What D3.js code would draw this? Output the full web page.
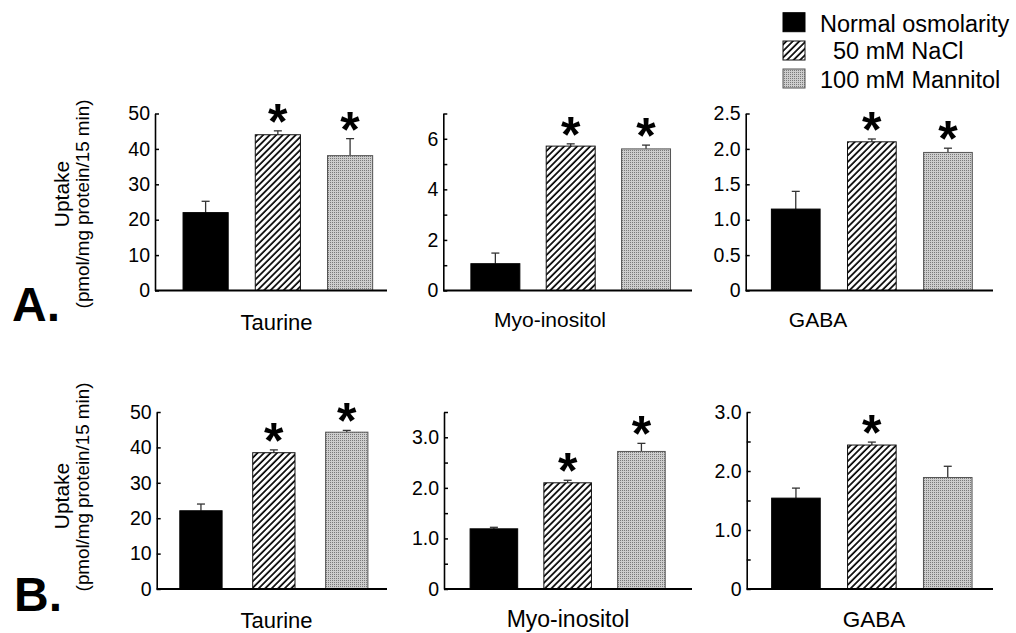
<!DOCTYPE html>
<html><head><meta charset="utf-8">
<script src="https://cdn.jsdelivr.net/npm/d3@7"></script>
<style>
body{margin:0;background:#fff}
svg{display:block}
text{font-family:"Liberation Sans",Arial,Helvetica,sans-serif;fill:#000}
</style>
</head><body>
<svg id="c" width="1016" height="633"></svg>
<script>
// ---------- DATA ----------
const categories = ["Taurine", "Myo-inositol", "GABA"];
const seriesNames = ["Normal osmolarity", "50 mM NaCl", "100 mM Mannitol"];

// Panel A: means and SEM (upper whisker) per category, order = series
const panelA_means = [[22.0, 44.0, 38.1], [1.06, 5.71, 5.60], [1.15, 2.10, 1.95]];
const panelA_sem   = [[3.2, 1.1, 4.8],   [0.42, 0.09, 0.15], [0.25, 0.04, 0.06]];
const panelA_sig   = [[false, true, true], [false, true, true], [false, true, true]];
const panelA_yMax  = [50, 7, 2.5];
const panelA_ticks = [[0,10,20,30,40,50], [0,1,2,3,4,5,6,7], [0,0.5,1,1.5,2,2.5]];
const panelA_tickLabels = [["0","10","20","30","40","50"], ["0","","2","","4","","6",""], ["0","0.5","1.0","1.5","2.0","2.5"]];

// Panel B
const panelB_means = [[22.1, 38.5, 44.3], [1.19, 2.10, 2.72], [1.54, 2.44, 1.89]];
const panelB_sem   = [[1.9, 0.8, 0.5],   [0.03, 0.05, 0.16], [0.17, 0.05, 0.19]];
const panelB_sig   = [[false, true, true], [false, true, true], [false, true, false]];
const panelB_yMax  = [50, 3.5, 3.0];
const panelB_ticks = [[0,10,20,30,40,50], [0,0.5,1,1.5,2,2.5,3,3.5], [0,0.5,1,1.5,2,2.5,3]];
const panelB_tickLabels = [["0","10","20","30","40","50"], ["0","","1.0","","2.0","","3.0",""], ["0","","1.0","","2.0","","3.0"]];

const panelLetters = ["A.", "B."];
const yTitle1 = "Uptake";
const yTitle2 = "(pmol/mg protein/15 min)";

// ---------- LAYOUT ----------
const layout = [
  { y0: 290.5, yTop: 113.5,
    cols: [ {ax:155, end:387, b0:169.5, b1:386.2, pad:0.375},
            {ax:443.3, end:692, b0:457.7, b1:683.7, pad:0.35},
            {ax:745.7, end:993, b0:757.7, b1:986, pad:0.36} ],
    labels: [ {x:276.5, y:330, fs:22}, {x:550, y:327, fs:21}, {x:818, y:327, fs:21} ],
    letter: {x:12, y:321}, yl: {x1:69, c1:194, x2:88.5, c2:204} },
  { y0: 589, yTop: 412,
    cols: [ {ax:156.7, end:387, b0:164.5, b1:383.2, pad:0.42},
            {ax:444, end:692, b0:457, b1:678.3, pad:0.355},
            {ax:746.7, end:993, b0:758, b1:985.7, pad:0.36} ],
    labels: [ {x:276.5, y:628, fs:22}, {x:568, y:627, fs:23}, {x:874, y:627, fs:22.5} ],
    letter: {x:14, y:611}, yl: {x1:69, c1:496, x2:88.5, c2:487} }
];

const panels = [
  {means: panelA_means, sem: panelA_sem, sig: panelA_sig, yMax: panelA_yMax, ticks: panelA_ticks, tl: panelA_tickLabels},
  {means: panelB_means, sem: panelB_sem, sig: panelB_sig, yMax: panelB_yMax, ticks: panelB_ticks, tl: panelB_tickLabels}
];

const svg = d3.select("#c");
const defs = svg.append("defs");
// hatch pattern
const hp = defs.append("pattern").attr("id","hatch").attr("patternUnits","userSpaceOnUse")
  .attr("width",4.6).attr("height",4.6).attr("patternTransform","rotate(45)");
hp.append("rect").attr("width",4.6).attr("height",4.6).attr("fill","#fff");
hp.append("line").attr("x1",1).attr("x2",1).attr("y1",0).attr("y2",4.6).attr("stroke","#000").attr("stroke-width",1.7);
// dotted gray pattern
const gp = defs.append("pattern").attr("id","dots").attr("patternUnits","userSpaceOnUse").attr("width",2).attr("height",2);
gp.append("rect").attr("width",2).attr("height",2).attr("fill","#cdcdcd");
gp.append("rect").attr("width",1).attr("height",1).attr("fill","#7a7a7a");

const fills = ["#000", "url(#hatch)", "url(#dots)"];
const strokes = ["#000", "#111", "#555"];

panels.forEach((p, pi) => {
  const L = layout[pi];
  categories.forEach((cat, ci) => {
    const C = L.cols[ci];
    const g = svg.append("g");
    const y = d3.scaleLinear().domain([0, p.yMax[ci]]).range([L.y0, L.yTop]);
    const x = d3.scaleBand().domain(seriesNames).range([C.b0, C.b1]).paddingInner(C.pad).paddingOuter(C.pad/2);
    const data = seriesNames.map((s, si) => ({s, si, v: p.means[ci][si], e: p.sem[ci][si], sig: p.sig[ci][si]}));

    // error bars
    g.selectAll(".eb").data(data).enter().append("line")
      .attr("x1", d => x(d.s) + x.bandwidth()/2).attr("x2", d => x(d.s) + x.bandwidth()/2)
      .attr("y1", d => y(d.v)).attr("y2", d => y(d.v + d.e))
      .attr("stroke", "#333").attr("stroke-width", 1.3);
    g.selectAll(".cap").data(data).enter().append("line")
      .attr("x1", d => x(d.s) + x.bandwidth()/2 - 4).attr("x2", d => x(d.s) + x.bandwidth()/2 + 4)
      .attr("y1", d => y(d.v + d.e)).attr("y2", d => y(d.v + d.e))
      .attr("stroke", "#333").attr("stroke-width", 1.3);

    // bars
    g.selectAll(".bar").data(data).enter().append("rect")
      .attr("x", d => x(d.s)).attr("width", x.bandwidth())
      .attr("y", d => y(d.v)).attr("height", d => y(0) - y(d.v))
      .attr("fill", d => fills[d.si]).attr("stroke", d => strokes[d.si]).attr("stroke-width", 1);

    // significance stars
    g.selectAll(".star").data(data.filter(d => d.sig)).enter().append("text")
      .attr("x", d => x(d.s) + x.bandwidth()/2)
      .attr("y", d => y(d.v + d.e) - 20 + 28)
      .attr("text-anchor", "middle").attr("font-weight", "bold").attr("font-size", 50)
      .text("*");

    // y axis
    const ax = g.append("g").attr("transform", `translate(${C.ax},0)`)
      .call(d3.axisLeft(y).tickValues(p.ticks[ci]).tickSizeInner(-4).tickSizeOuter(0).tickPadding(5)
        .tickFormat((d, i) => p.tl[ci][i]));
    ax.select(".domain").attr("stroke", "#000").attr("stroke-width", 1.6);
    ax.selectAll(".tick line").attr("stroke", "#000").attr("stroke-width", 1.5);
    ax.selectAll(".tick text").attr("font-size", 19.5).attr("font-family", "Liberation Sans, Arial, sans-serif").attr("fill", "#000");

    // x axis baseline
    g.append("line").attr("x1", C.ax).attr("x2", C.end).attr("y1", y(0)).attr("y2", y(0))
      .attr("stroke", "#000").attr("stroke-width", 2);

    // category label
    const lb = L.labels[ci];
    g.append("text").attr("x", lb.x).attr("y", lb.y).attr("text-anchor", "middle")
      .attr("font-size", lb.fs).text(cat);
  });

  // panel letter
  svg.append("text").attr("x", L.letter.x).attr("y", L.letter.y)
    .attr("font-size", 48).attr("font-weight", "bold").text(panelLetters[pi]);

  // y title
  svg.append("text").attr("transform", `translate(${L.yl.x1},${L.yl.c1}) rotate(-90)`)
    .attr("text-anchor", "middle").attr("font-size", 21).text(yTitle1);
  svg.append("text").attr("transform", `translate(${L.yl.x2},${L.yl.c2}) rotate(-90)`)
    .attr("text-anchor", "middle").attr("font-size", 18.8).text(yTitle2);
});

// legend
const legY = [12.7, 41, 69];
const legTextY = [32, 59, 87.5];
const legTextX = [820, 833, 820];
const lg = svg.append("g");
seriesNames.forEach((s, i) => {
  lg.append("rect").attr("x", 783).attr("y", legY[i]).attr("width", 22).attr("height", 19)
    .attr("fill", fills[i]).attr("stroke", strokes[i]).attr("stroke-width", 1);
  lg.append("text").attr("x", legTextX[i]).attr("y", legTextY[i]).attr("font-size", 23.5).text(s);
});
</script>
</body></html>
